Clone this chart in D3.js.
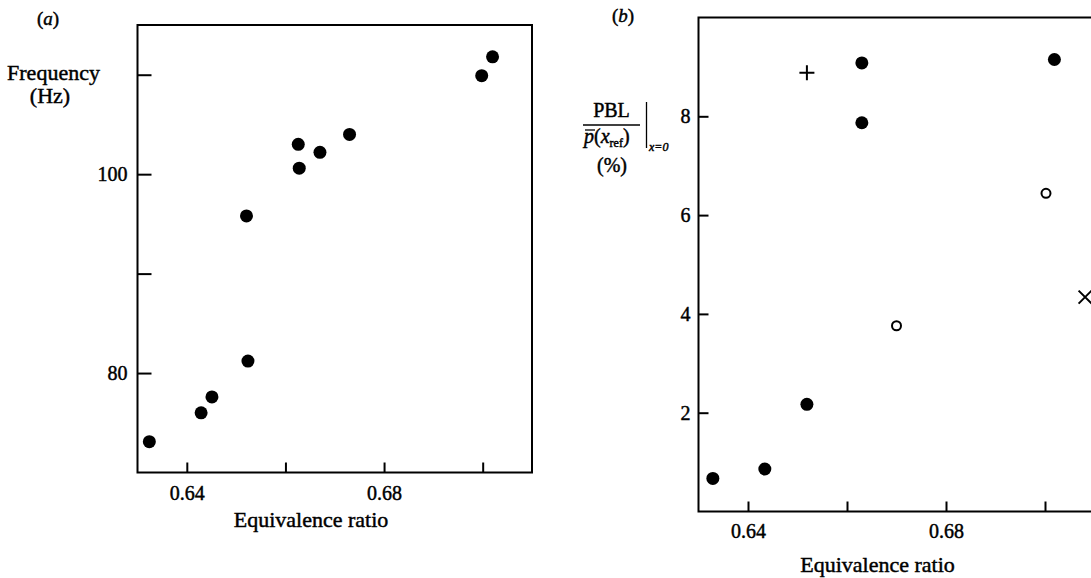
<!DOCTYPE html>
<html>
<head>
<meta charset="utf-8">
<script src="https://cdn.jsdelivr.net/npm/d3@7"></script>
<style>
  body { margin: 0; background: #fff; }
  svg { display: block; font-family: "Liberation Serif", "Times New Roman", serif; }
  svg text { fill: #000; stroke: #000; stroke-width: 0.45px; }
</style>
</head>
<body>
<div id="chart"></div>
<script>
// panel (a): oscillation frequency vs equivalence ratio
const freqPhi = [0.6324, 0.6429, 0.6451, 0.6524, 0.6521, 0.6626, 0.6628, 0.6670, 0.6730, 0.6998, 0.7020];
const freqHz  = [73.1, 76.0, 77.6, 81.2, 95.8, 103.0, 100.6, 102.2, 104.0, 109.9, 111.8];

// panel (b): peak band level, one array pair per marker type
const pblDotPhi   = [0.6329, 0.6434, 0.6519, 0.6630, 0.6630, 0.7019];
const pblDotVal   = [0.67, 0.86, 2.17, 7.87, 9.08, 9.15];
const pblRingPhi  = [0.6700, 0.7002];
const pblRingVal  = [3.76, 6.44];
const pblPlusPhi  = [0.6519];
const pblPlusVal  = [8.88];
const pblCrossPhi = [0.7081];
const pblCrossVal = [4.34];

// ticks
const phiTicks = [0.64, 0.66, 0.68, 0.70];
const phiLabels = ['0.64', '', '0.68', ''];
const freqTicks = [80, 90, 100, 110];
const freqLabels = ['80', '', '100', ''];
const pblTicks = [2, 4, 6, 8];
const pblLabels = ['2', '4', '6', '8'];

const width = 1091, height = 578;

const svg = d3.select('#chart').append('svg')
    .attr('width', width)
    .attr('height', height);

svg.append('rect').attr('width', width).attr('height', height).attr('fill', '#fff');

const zip = (a, b) => a.map((v, i) => [v, b[i]]);

// scales
const xA = d3.scaleLinear().domain([0.63, 0.71]).range([137.5, 532]);
const yA = d3.scaleLinear().domain([70, 115]).range([472.5, 25]);
const xB = d3.scaleLinear().domain([0.63, 0.71]).range([698.5, 1094.5]);
const yB = d3.scaleLinear().domain([0, 10]).range([511.5, 17.5]);

function styleAxis(g, size) {
    g.select('.domain').remove();
    g.selectAll('line').attr('stroke', '#000').attr('stroke-width', 2);
    g.selectAll('text')
        .attr('font-family', '"Liberation Serif", serif')
        .attr('font-size', size)
        .attr('fill', '#000');
}

function frame(x, y) {
    const [x0, x1] = x.range();
    const [y0, y1] = y.range();
    svg.append('rect')
        .attr('x', x0).attr('y', y1)
        .attr('width', x1 - x0).attr('height', y0 - y1)
        .attr('fill', 'none').attr('stroke', '#000').attr('stroke-width', 2);
}

// ---------- panel (a)
svg.append('g')
    .attr('transform', `translate(0,${yA.range()[0]})`)
    .call(d3.axisBottom(xA).tickValues(phiTicks).tickFormat((d, i) => phiLabels[i])
        .tickSize(-10).tickPadding(13))
    .call(g => styleAxis(g, 20));

svg.append('g')
    .attr('transform', `translate(${xA.range()[0]},0)`)
    .call(d3.axisLeft(yA).tickValues(freqTicks).tickFormat((d, i) => freqLabels[i])
        .tickSize(-14).tickPadding(10))
    .call(g => styleAxis(g, 20));

frame(xA, yA);

svg.append('g').selectAll('circle')
    .data(zip(freqPhi, freqHz))
    .join('circle')
    .attr('cx', d => xA(d[0]))
    .attr('cy', d => yA(d[1]))
    .attr('r', 6.5)
    .attr('fill', '#000');

const labA = svg.append('text').attr('x', 37).attr('y', 25).attr('font-size', 19);
labA.append('tspan').text('(');
labA.append('tspan').attr('font-style', 'italic').text('a');
labA.append('tspan').text(')');

svg.append('text').attr('x', 53.5).attr('y', 80)
    .attr('text-anchor', 'middle').attr('font-size', 22).text('Frequency');
svg.append('text').attr('x', 50).attr('y', 103)
    .attr('text-anchor', 'middle').attr('font-size', 22).text('(Hz)');
svg.append('text').attr('x', 311).attr('y', 527)
    .attr('text-anchor', 'middle').attr('font-size', 22).text('Equivalence ratio');

// ---------- panel (b)
svg.append('g')
    .attr('transform', `translate(0,${yB.range()[0]})`)
    .call(d3.axisBottom(xB).tickValues(phiTicks).tickFormat((d, i) => phiLabels[i])
        .tickSize(-10).tickPadding(12))
    .call(g => styleAxis(g, 20));

svg.append('g')
    .attr('transform', `translate(${xB.range()[0]},0)`)
    .call(d3.axisLeft(yB).tickValues(pblTicks).tickFormat((d, i) => pblLabels[i])
        .tickSize(-10).tickPadding(8))
    .call(g => styleAxis(g, 20));

frame(xB, yB);

const marksB = svg.append('g');

marksB.selectAll('circle.dot')
    .data(zip(pblDotPhi, pblDotVal))
    .join('circle').attr('class', 'dot')
    .attr('cx', d => xB(d[0]))
    .attr('cy', d => yB(d[1]))
    .attr('r', 6.5)
    .attr('fill', '#000');

marksB.selectAll('circle.ring')
    .data(zip(pblRingPhi, pblRingVal))
    .join('circle').attr('class', 'ring')
    .attr('cx', d => xB(d[0]))
    .attr('cy', d => yB(d[1]))
    .attr('r', 4.5)
    .attr('fill', 'none').attr('stroke', '#000').attr('stroke-width', 2);

marksB.selectAll('path.plus')
    .data(zip(pblPlusPhi, pblPlusVal))
    .join('path').attr('class', 'plus')
    .attr('transform', d => `translate(${xB(d[0])},${yB(d[1])})`)
    .attr('d', 'M-7.5,0H7.5M0,-7.5V7.5')
    .attr('stroke', '#000').attr('stroke-width', 2);

marksB.selectAll('path.cross')
    .data(zip(pblCrossPhi, pblCrossVal))
    .join('path').attr('class', 'cross')
    .attr('transform', d => `translate(${xB(d[0])},${yB(d[1])})`)
    .attr('d', 'M-6.5,-6.5L6.5,6.5M-6.5,6.5L6.5,-6.5')
    .attr('stroke', '#000').attr('stroke-width', 2);

const labB = svg.append('text').attr('x', 612).attr('y', 22).attr('font-size', 19);
labB.append('tspan').text('(');
labB.append('tspan').attr('font-style', 'italic').text('b');
labB.append('tspan').text(')');

// y label of (b): PBL / p(x_ref) |x=0 (%)
const yl = svg.append('g');
yl.append('text').attr('x', 611.5).attr('y', 117)
    .attr('text-anchor', 'middle').attr('font-size', 20).text('PBL');
yl.append('line').attr('x1', 583).attr('x2', 640).attr('y1', 125).attr('y2', 125)
    .attr('stroke', '#000').attr('stroke-width', 1.5);
const den = yl.append('text').attr('x', 584).attr('y', 143).attr('font-size', 20);
den.append('tspan').attr('font-style', 'italic').text('p');
den.append('tspan').text('(');
den.append('tspan').attr('font-style', 'italic').text('x');
den.append('tspan').attr('font-size', 12).attr('dy', 4).text('ref');
den.append('tspan').attr('dy', -4).text(')');
yl.append('line').attr('x1', 585).attr('x2', 595).attr('y1', 130).attr('y2', 130)
    .attr('stroke', '#000').attr('stroke-width', 1.3);
yl.append('line').attr('x1', 646.5).attr('x2', 646.5).attr('y1', 102).attr('y2', 148)
    .attr('stroke', '#000').attr('stroke-width', 1.3);
yl.append('text').attr('x', 649).attr('y', 151)
    .attr('font-size', 12).attr('font-style', 'italic').text('x=0');
yl.append('text').attr('x', 612).attr('y', 172)
    .attr('text-anchor', 'middle').attr('font-size', 20).text('(%)');

svg.append('text').attr('x', 877.5).attr('y', 572)
    .attr('text-anchor', 'middle').attr('font-size', 22).text('Equivalence ratio');
</script>
</body>
</html>
